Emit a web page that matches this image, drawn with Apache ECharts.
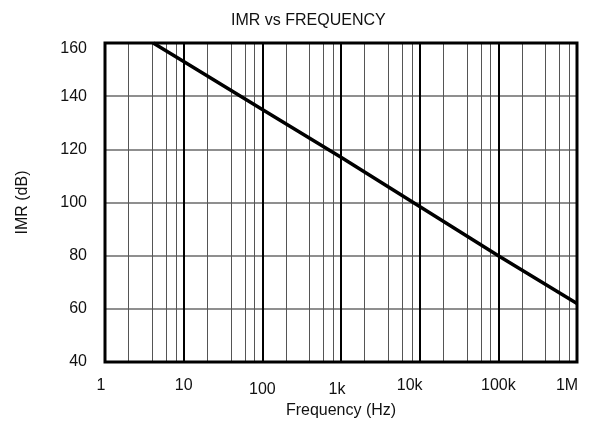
<!DOCTYPE html>
<html>
<head>
<meta charset="utf-8">
<script src="https://cdn.jsdelivr.net/npm/echarts@6/dist/echarts.min.js"></script>
<style>
  html, body { margin: 0; padding: 0; background: #fff; }
  #chart { width: 592px; height: 430px; }
</style>
</head>
<body>
<div id="chart"></div>
<script>
// IMR curve (frequency in Hz, IMR in dB)
var freqs = [4.1, 10, 100, 1000, 10000, 100000, 1000000];
var imr = [160, 153, 135, 117, 98.5, 80, 62];
var xTickLabels = ['1', '10', '100', '1k', '10k', '100k', '1M'];
var minorSteps = [2, 4, 6, 8];
var decades = [1, 10, 100, 1000, 10000, 100000];

var minorLines = [];
decades.forEach(function (d) {
    minorSteps.forEach(function (m) {
        minorLines.push({ xAxis: d * m });
    });
});

var lineData = freqs.map(function (f, i) { return [f, imr[i]]; });

// the original's x labels are a bit uneven: some drop lower, some sit left of their line
var labelStyleOf = { '1': 'l1', '100': 'lo', '1k': 'lok', '10k': 'l2', '1M': 'l2' };

var chart = echarts.init(document.getElementById('chart'));
var font = 'Liberation Sans, Arial, sans-serif';
var txt = { fontFamily: font, fontSize: 16, color: '#111' };
var option = {
    animation: false,
    title: {
        text: 'IMR vs FREQUENCY',
        left: 226,
        top: 8,
        textStyle: { fontFamily: font, fontSize: 16, fontWeight: 'normal', color: '#111' }
    },
    grid: {
        left: 105, right: 15, top: 43, bottom: 68,
        show: true,
        borderColor: '#000',
        borderWidth: 3,
        z: 5
    },
    xAxis: {
        type: 'log',
        logBase: 10,
        min: 1,
        max: 1000000,
        name: 'Frequency (Hz)',
        nameLocation: 'middle',
        nameGap: 40,
        nameTextStyle: txt,
        axisLine: { show: false },
        axisTick: { show: false },
        splitLine: { show: true, lineStyle: { color: '#000', width: 2 } },
        axisLabel: {
            margin: 16,
            fontFamily: font,
            fontSize: 16,
            color: '#111',
            formatter: function (v) {
                var t = xTickLabels[Math.round(Math.log10(v))];
                var s = labelStyleOf[t];
                return s ? '{' + s + '|' + t + '}' : t;
            },
            rich: {
                l1: Object.assign({ padding: [0, 8, 0, 0] }, txt),
                lo: Object.assign({ padding: [4, 0, 0, 0] }, txt),
                lok: Object.assign({ padding: [4, 8, 0, 0] }, txt),
                l2: Object.assign({ padding: [0, 20, 0, 0] }, txt)
            }
        }
    },
    yAxis: {
        type: 'value',
        min: 40,
        max: 160,
        interval: 20,
        name: 'IMR (dB)',
        nameLocation: 'middle',
        nameGap: 74,
        nameTextStyle: txt,
        axisLine: { show: false },
        axisTick: { show: false },
        splitLine: { show: true, lineStyle: { color: '#6a6a6a', width: 1.5 } },
        axisLabel: {
            margin: 18,
            fontFamily: font,
            fontSize: 16,
            color: '#111',
            formatter: function (v) {
                return v === 160 ? '{top|160}' : String(v);
            },
            rich: {
                top: Object.assign({ padding: [11, 0, 0, 0] }, txt)
            }
        }
    },
    series: [
        {
            type: 'line',
            data: lineData,
            showSymbol: false,
            lineStyle: { color: '#000', width: 3.5 },
            z: 3,
            markLine: {
                silent: true,
                symbol: ['none', 'none'],
                label: { show: false },
                lineStyle: { color: '#555', width: 1, type: 'solid' },
                data: minorLines,
                z: 1
            }
        }
    ]
};
chart.setOption(option);
</script>
</body>
</html>
